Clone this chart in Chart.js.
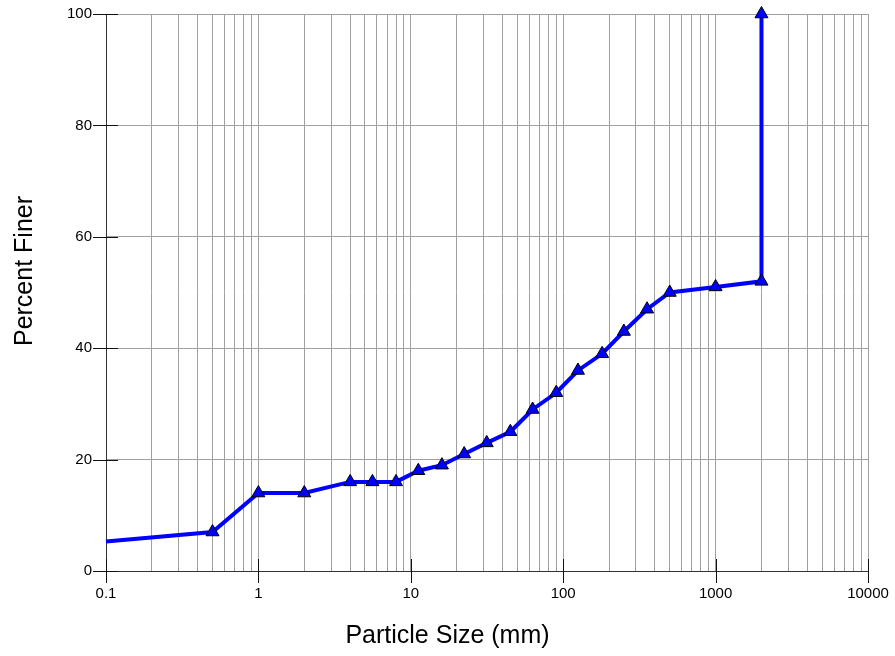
<!DOCTYPE html>
<html>
<head>
<meta charset="utf-8">
<script src="https://cdn.jsdelivr.net/npm/chart.js@4.4.1/dist/chart.umd.min.js"></script>
<style>
  html, body { margin: 0; padding: 0; background: #fff; }
  #wrap { width: 895px; height: 656px; }
</style>
</head>
<body>
<div id="wrap"><canvas id="chart"></canvas></div>
<script>
// grain size curve
const sizes = [0.1, 0.5, 1, 2, 4, 5.6, 8, 11.2, 16, 22.4, 31.5, 45, 63, 90, 125, 180, 250, 355, 500, 1000, 2000, 2000];
const percentFiner = [5.3, 7, 14, 14, 16, 16, 16, 18, 19, 21, 23, 25, 29, 32, 36, 39, 43, 47, 50, 51, 52, 100];

const xDecades = [0.1, 1, 10, 100, 1000, 10000];
const xTickLabels = ["0.1", "1", "10", "100", "1000", "10000"];
const xMultipliers = [1, 2, 3, 4, 5, 6, 7, 8, 9];
const yTicks = [0, 20, 40, 60, 80, 100];

const xTitle = "Particle Size (mm)";
const yTitle = "Percent Finer";

const FONT = "'Liberation Sans', Arial, sans-serif";
const GRID = "#a0a0a0";
const AXIS = "#333333";

function buildGridValues() {
  const values = [];
  xDecades.slice(0, -1).forEach((decade) => {
    xMultipliers.forEach((m) => values.push(Number((m * decade).toPrecision(4))));
  });
  values.push(xDecades[xDecades.length - 1]);
  return values;
}

// decade / major tick marks crossing the axes, plus the two axis titles
const axisDecor = {
  id: "axisDecor",
  beforeDatasetsDraw(chart) {
    const { ctx, chartArea, scales } = chart;
    ctx.save();
    ctx.strokeStyle = "#111111";
    ctx.lineWidth = 1;
    ctx.beginPath();
    xDecades.forEach((v) => {
      const px = Math.round(scales.x.getPixelForValue(v)) + 0.5;
      ctx.moveTo(px, chartArea.bottom - 12);
      ctx.lineTo(px, chartArea.bottom + 12);
    });
    yTicks.forEach((v) => {
      const py = Math.round(scales.y.getPixelForValue(v)) + 0.5;
      ctx.moveTo(chartArea.left - 13, py);
      ctx.lineTo(chartArea.left + 12, py);
    });
    ctx.stroke();

    ctx.fillStyle = "#000000";
    ctx.font = `25px ${FONT}`;
    ctx.textAlign = "center";
    ctx.textBaseline = "middle";
    ctx.fillText(xTitle, chart.width / 2, 636);
    ctx.translate(25, 271);
    ctx.rotate(-Math.PI / 2);
    ctx.fillText(yTitle, 0, 0);
    ctx.restore();
  }
};

const points = sizes.map((x, i) => ({ x, y: percentFiner[i] }));

new Chart(document.getElementById("chart").getContext("2d"), {
  type: "scatter",
  data: {
    datasets: [
      {
        data: points,
        showLine: true,
        borderColor: "#0000ff",
        borderWidth: 4,
        tension: 0,
        clip: false,
        pointStyle: "triangle",
        pointRadius: (ctx) => (ctx.dataIndex === 0 ? 0 : 7.5),
        pointHoverRadius: (ctx) => (ctx.dataIndex === 0 ? 0 : 7.5),
        pointBackgroundColor: "#0000ff",
        pointBorderColor: "#000000",
        pointBorderWidth: 1
      }
    ]
  },
  plugins: [axisDecor],
  options: {
    responsive: true,
    maintainAspectRatio: false,
    animation: false,
    layout: { padding: { left: 0, top: 14, right: 27, bottom: 0 } },
    plugins: {
      legend: { display: false },
      tooltip: { enabled: false }
    },
    scales: {
      x: {
        type: "logarithmic",
        min: 0.1,
        max: 10000,
        afterBuildTicks: (scale) => {
          scale.ticks = buildGridValues().map((value) => ({ value }));
        },
        afterFit: (scale) => {
          scale.height = 85;
          scale.paddingLeft = 0;
          scale.paddingRight = 0;
        },
        ticks: {
          autoSkip: false,
          maxRotation: 0,
          padding: 14,
          color: "#000000",
          font: { family: FONT, size: 15 },
          callback: (value) => {
            const idx = xDecades.findIndex((d) => Math.abs(d - value) < d * 1e-6);
            return idx >= 0 ? xTickLabels[idx] : "";
          }
        },
        grid: { color: GRID, lineWidth: 1, drawTicks: false },
        border: { color: AXIS, width: 1 }
      },
      y: {
        min: 0,
        max: 100,
        afterBuildTicks: (scale) => {
          scale.ticks = yTicks.map((value) => ({ value }));
        },
        afterFit: (scale) => {
          scale.width = 106;
          scale.paddingTop = 0;
          scale.paddingBottom = 0;
        },
        ticks: {
          padding: 14,
          color: "#000000",
          font: { family: FONT, size: 15 }
        },
        grid: { color: GRID, lineWidth: 1, drawTicks: false },
        border: { color: AXIS, width: 1 }
      }
    }
  }
});
</script>
</body>
</html>
